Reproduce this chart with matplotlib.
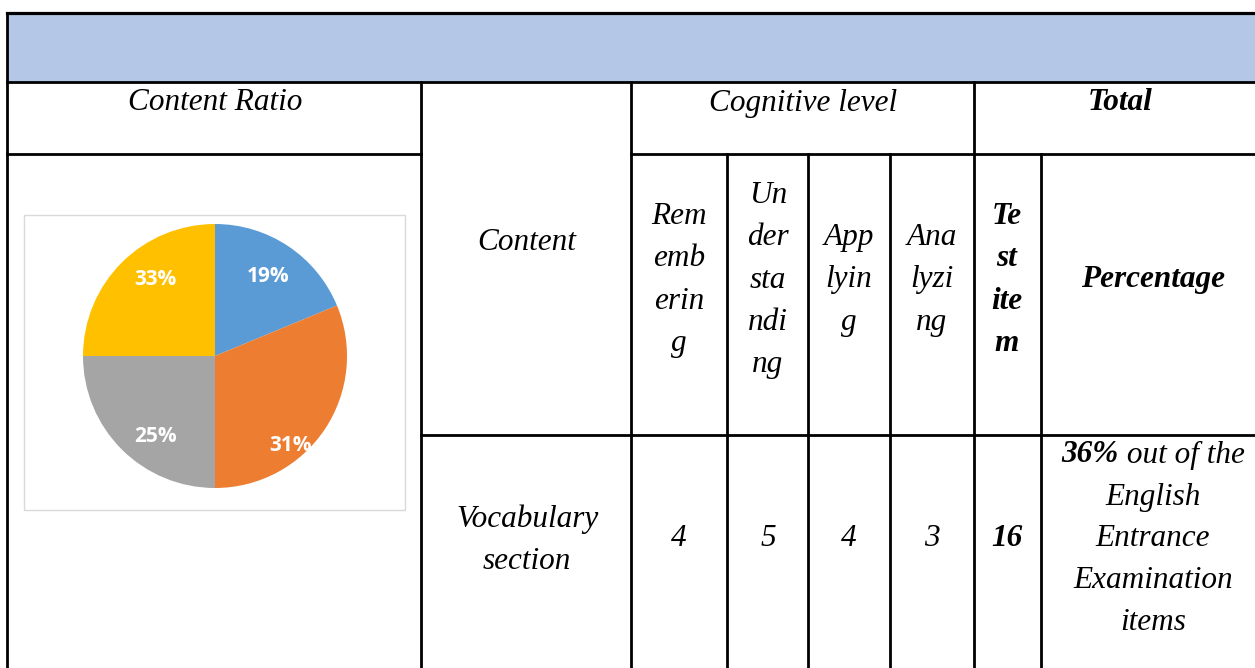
import matplotlib.pyplot as plt
from matplotlib.patches import Rectangle

W, H = 1255, 668
DPI = 100

# pie data (wedge sizes, labels as printed)
PIE_SIZES = [18.75, 31.25, 25, 25]
PIE_LABELS = ['19%', '31%', '25%', '33%']
PIE_COLORS = ['#5B9BD5', '#ED7D31', '#A5A5A5', '#FFC000']
# where the labels sit inside the pie (fraction of the radius), like Excel's best fit
LABEL_XY = [(0.40, 0.60), (0.57, -0.68), (-0.45, -0.61), (-0.45, 0.58)]

# table content
LEVEL_NAMES = ['Rem\nemb\nerin\ng', 'Un\nder\nsta\nndi\nng', 'App\nlyin\ng', 'Ana\nlyzi\nng']
VOCAB_COUNTS = [4, 5, 4, 3]
VOCAB_TOTAL = 16
VOCAB_SHARE = '36%'
SHARE_REST = ['out of the', 'English', 'Entrance', 'Examination', 'items']

SERIF = 'Liberation Serif'
FS = 22.5
LW = 2.0


def main():
    fig = plt.figure(figsize=(W / DPI, H / DPI), dpi=DPI)
    ax = fig.add_axes([0, 0, 1, 1])
    ax.set_xlim(0, W)
    ax.set_ylim(H, 0)
    ax.axis('off')

    right = W + 20
    # blue title band
    ax.add_patch(Rectangle((7, 13), right - 7, 69, facecolor='#B4C7E7', edgecolor='none'))

    def hline(y, x0, x1, lw=LW):
        ax.plot([x0, x1], [y, y], color='black', lw=lw, solid_capstyle='projecting')

    def vline(x, y0, y1):
        ax.plot([x, x], [y0, y1], color='black', lw=LW, solid_capstyle='projecting')

    hline(13, 7, right, lw=2.3)
    hline(82, 7, right)
    hline(154, 7, 421)
    hline(154, 631, right)
    hline(435, 421, right)
    vline(7, 13, H + 10)
    vline(421, 82, H + 10)
    for x in [631, 974]:
        vline(x, 82, H + 10)
    for x in [727, 808, 890, 1041]:
        vline(x, 154, H + 10)

    txt = dict(family=SERIF, style='italic', fontsize=FS, ha='center', va='center',
               linespacing=1.6)

    ax.text(215, 103, 'Content Ratio', **txt)
    ax.text(527, 243, 'Content', **txt)
    ax.text(803, 103, 'Cognitive level', **txt)
    ax.text(1120, 103, 'Total', weight='bold', **txt)

    col_x = [679, 768, 849, 932]
    for x, name in zip(col_x, LEVEL_NAMES):
        ax.text(x, 280, name, **txt)
    ax.text(1007, 280, 'Te\nst\nite\nm', weight='bold', **txt)
    ax.text(1153, 279, 'Percentage', weight='bold', **txt)

    ax.text(527, 540, 'Vocabulary\nsection', **txt)
    for x, n in zip(col_x, VOCAB_COUNTS):
        ax.text(x, 539, str(n), **txt)
    ax.text(1007, 539, str(VOCAB_TOTAL), weight='bold', **txt)

    # last cell: first line mixes bold and regular italic
    line_gap = 42
    y0 = 455
    fig.canvas.draw()
    r = fig.canvas.get_renderer()
    t1 = ax.text(0, y0, VOCAB_SHARE, family=SERIF, style='italic', weight='bold',
                 fontsize=FS, ha='left', va='center')
    t2 = ax.text(0, y0, ' ' + SHARE_REST[0], family=SERIF, style='italic',
                 fontsize=FS, ha='left', va='center')
    w1 = t1.get_window_extent(r).width
    w2 = t2.get_window_extent(r).width
    x_start = 1153 - (w1 + w2) / 2
    t1.set_x(x_start)
    t2.set_x(x_start + w1)
    for i, s in enumerate(SHARE_REST[1:], start=1):
        ax.text(1153, y0 + i * line_gap, s, **txt)

    # pie picture frame
    ax.add_patch(Rectangle((24, 215), 381, 295, facecolor='white', edgecolor='#D9D9D9', lw=1))

    cx, cy, rad = 215, 356, 132
    pax = fig.add_axes([(cx - rad) / W, (H - cy - rad) / H, 2 * rad / W, 2 * rad / H])
    wedges, labels = pax.pie(PIE_SIZES, labels=PIE_LABELS, colors=PIE_COLORS, startangle=90,
                             counterclock=False,
                             textprops=dict(color='white', family='Open Sans', weight='bold',
                                            fontsize=15, ha='center', va='center'))
    for t, pos in zip(labels, LABEL_XY):
        t.set_position(pos)
    pax.set_xlim(-1, 1)
    pax.set_ylim(-1, 1)
    pax.set_aspect('equal')

    fig.savefig('out.png', dpi=DPI)
    plt.close('all')


if __name__ == '__main__':
    main()
